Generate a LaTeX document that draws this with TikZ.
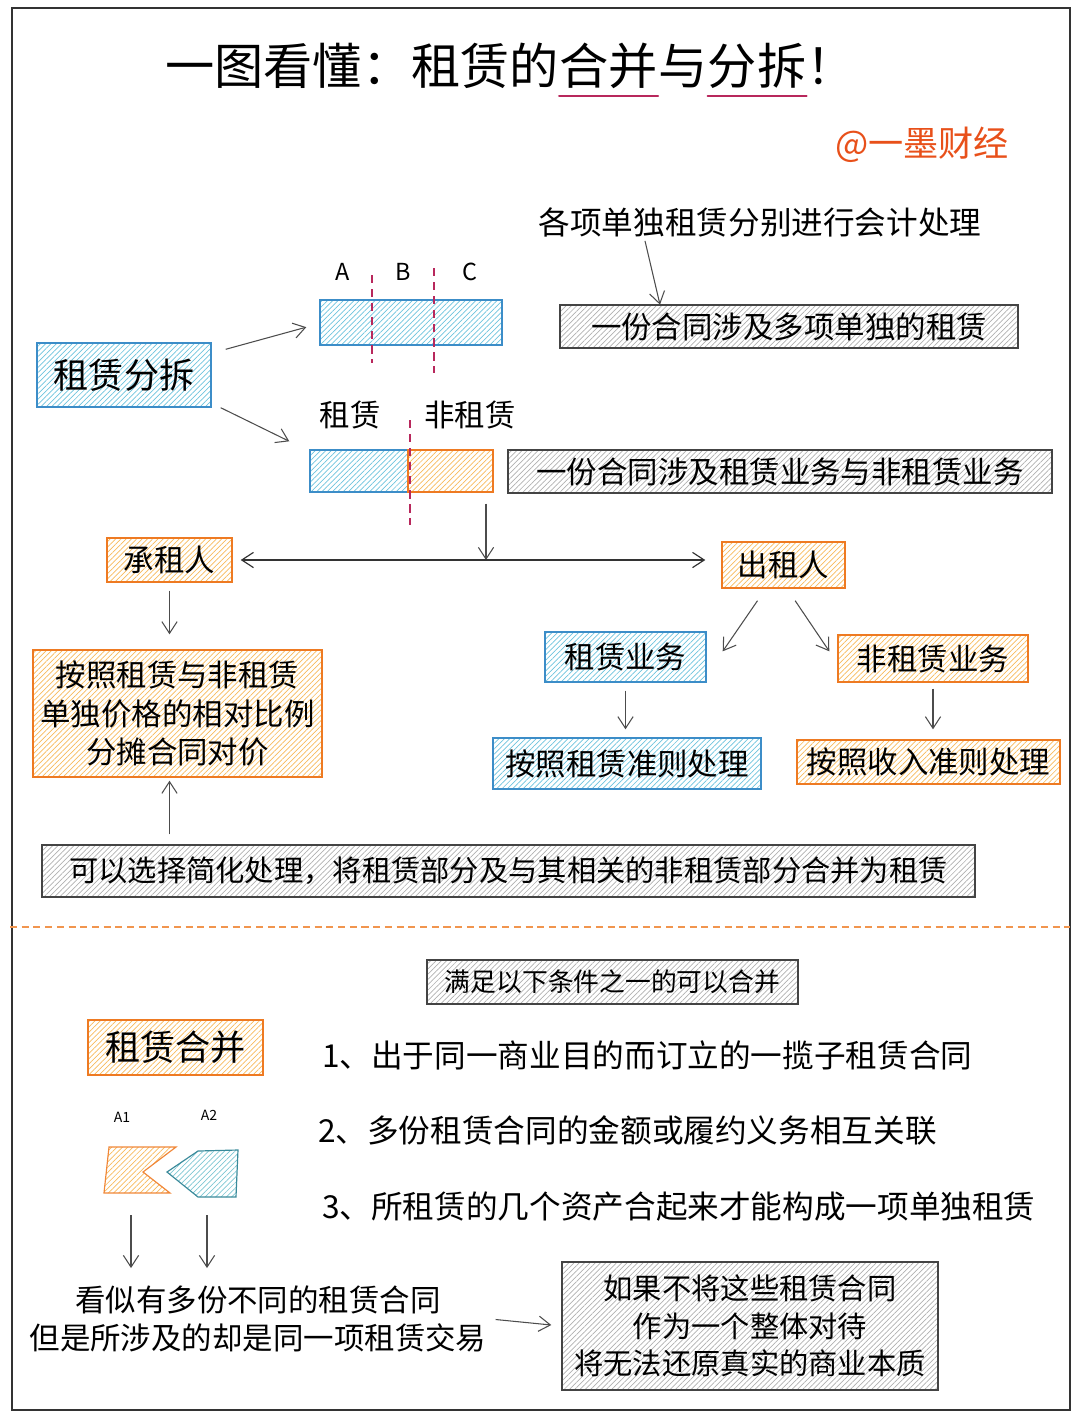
\documentclass[tikz,border=0pt]{standalone}
\usepackage{fontspec}
\setmainfont{Noto Sans CJK SC}
\usetikzlibrary{arrows.meta, positioning, calc, patterns.meta}
\definecolor{cblue}{HTML}{3C8DC8}
\definecolor{lightblue}{HTML}{6CC3DD}
\definecolor{corange}{HTML}{EE7A22}
\definecolor{lightorange}{HTML}{F7B95A}
\definecolor{cgrey}{HTML}{444444}
\definecolor{lightgrey}{HTML}{B0B0B0}
\definecolor{cteal}{HTML}{3A8A9A}
\definecolor{lightteal}{HTML}{7CC6D2}
\definecolor{ccrimson}{HTML}{B8285C}
\definecolor{cbrand}{HTML}{E8501A}
\newcommand{\bodyfont}{\fontsize{26}{33}\selectfont}
\newcommand{\bigfont}{\fontsize{30}{36}\selectfont}
\tikzset{
  hatch/.style={pattern={Lines[angle=45, distance=3.2pt, line width=0.6pt]}},
  bluebox/.style={draw=cblue, line width=1.2pt, hatch, pattern color=lightblue},
  orangebox/.style={draw=corange, line width=1.2pt, hatch, pattern color=lightorange},
  greybox/.style={draw=cgrey, line width=1.2pt, hatch, pattern color=lightgrey},
  titletext/.style={inner sep=0pt, font=\fontsize{42}{50}\selectfont},
  underl/.style={draw=ccrimson, line width=2pt, line cap=round},
  cut/.style={draw=ccrimson, line width=1.5pt, dash pattern=on 7pt off 5pt},
  arr/.style={draw=black!70, line width=0.9pt, -{Straight Barb[length=10pt, width=13pt]}},
  dblarr/.style={draw=black!80, line width=1pt, {Straight Barb[length=10pt, width=13pt]}-{Straight Barb[length=10pt, width=13pt]}},
  lbl/.style={font=\fontsize{20}{24}\selectfont}
}

\begin{document}
\begin{tikzpicture}[x=0.03cm, y=-0.03cm, font=\bodyfont]
  \useasboundingbox (0,0) rectangle (1080,1418);
  \draw[draw=black!80, line width=1.2pt] (12,8) rectangle (1070,1410);

  % title
  \node[titletext, anchor=base west] (t1) at (165,84) {一图看懂：租赁的};
  \node[titletext, anchor=base west] (t2) at (t1.base east) {合并};
  \node[titletext, anchor=base west] (t3) at (t2.base east) {与};
  \node[titletext, anchor=base west] (t4) at (t3.base east) {分拆};
  \node[titletext, anchor=base west] (t5) at (t4.base east) {！};
  \draw[underl] ([yshift=-0.36cm]t2.base west) -- ([yshift=-0.36cm]t2.base east);
  \draw[underl] ([yshift=-0.36cm]t4.base west) -- ([yshift=-0.36cm]t4.base east);
  \node[font=\bigfont, text=cbrand, anchor=east] (brand) at (1013,145) {@一墨财经};

  % lease split
  \node[font=\fontsize{27}{32}\selectfont] (note) at (760,222) {各项单独租赁分别进行会计处理};
  \node[greybox, minimum width=13.74cm, minimum height=1.29cm] (multi) at (789,326.5) {一份合同涉及多项单独的租赁};
  \node[bluebox, minimum width=5.46cm, minimum height=1.35cm] (bar) at (411,322.5) {};
  \node[lbl] (la) at (343,272) {A};
  \node[lbl] (lb) at (403,272) {B};
  \node[lbl] (lc) at (470,272) {C};
  \draw[cut] (372,275) -- (372,363);
  \draw[cut] (434,268) -- (434,373);
  \node[bluebox, font=\bigfont, minimum width=5.22cm, minimum height=1.92cm] (split) at (124,375) {租赁分拆};
  \node (ltext) at (350,415) {租赁};
  \node (ntext) at (470,415) {非租赁};
  \node[bluebox, minimum width=2.94cm, minimum height=1.26cm] (lpart) at (359,471) {};
  \node[orangebox, minimum width=2.55cm, minimum height=1.26cm] (npart) at (450.5,471) {};
  \draw[cut] (410,420) -- (410,525);
  \node[greybox, minimum width=16.32cm, minimum height=1.29cm] (mixed) at (780,471.5) {一份合同涉及租赁业务与非租赁业务};

  \draw[arr] ([xshift=-3.45cm]note.south) -- ([xshift=-3.87cm]multi.north);
  \draw[arr] ([xshift=0.42cm, yshift=-0.21cm]split.north east) -- ([xshift=-0.39cm, yshift=-0.14cm]bar.west);
  \draw[arr] ([xshift=0.27cm]split.south east) -- ([xshift=-0.6cm, yshift=0.24cm]lpart.north west);

  % lessee and lessor
  \node[orangebox, minimum width=3.75cm, minimum height=1.32cm] (lessee) at (169.5,560) {承租人};
  \node[orangebox, minimum width=3.69cm, minimum height=1.38cm] (lessor) at (783.5,565) {出租人};
  \coordinate (hub) at (486,560);
  \draw[arr] ($(npart.south east -| hub)+(0,11)$) -- (hub);
  \draw[dblarr] ([xshift=0.24cm]lessee.east) -- ($(lessee.east -| lessor.west)+(-16,0)$);

  \node[orangebox, align=center, minimum width=8.67cm, minimum height=3.81cm] (alloc) at (177.5,713.5) {按照租赁与非租赁\\单独价格的相对比例\\分摊合同对价};
  \node[greybox, font=\fontsize{25}{30}\selectfont, minimum width=27.99cm, minimum height=1.56cm] (simple) at (508.5,871) {可以选择简化处理，将租赁部分及与其相关的非租赁部分合并为租赁};
  \draw[arr, shorten <=0.24cm, shorten >=0.45cm] (lessee.south) -- (lessee.south |- alloc.north);
  \draw[arr, shorten <=0.3cm, shorten >=0.09cm] (simple.north -| lessee.south) -- (alloc.south -| lessee.south);

  \node[bluebox, minimum width=4.83cm, minimum height=1.5cm] (leasebiz) at (625.5,657) {租赁业务};
  \node[orangebox, minimum width=5.7cm, minimum height=1.41cm] (otherbiz) at (933,658.5) {非租赁业务};
  \node[bluebox, minimum width=8.04cm, minimum height=1.53cm] (leasestd) at (627,763.5) {按照租赁准则处理};
  \node[orangebox, minimum width=7.89cm, minimum height=1.32cm] (revstd) at (928.5,762) {按照收入准则处理};
  \draw[arr] ([xshift=-0.78cm, yshift=-0.36cm]lessor.south) -- ([xshift=0.48cm, yshift=-0.6cm]leasebiz.north east);
  \draw[arr] ([xshift=0.35cm, yshift=-0.36cm]lessor.south) -- ([xshift=-0.24cm, yshift=-0.51cm]otherbiz.north west);
  \draw[arr, shorten <=0.24cm, shorten >=0.24cm] (leasebiz.south) -- (leasebiz.south |- leasestd.north);
  \draw[arr, shorten <=0.18cm, shorten >=0.3cm] (otherbiz.south) -- (otherbiz.south |- revstd.north);

  \draw[draw=corange!80, line width=1.2pt, dash pattern=on 6pt off 4pt] (10,927) -- (1070,927);

  % lease combination
  \node[greybox, font=\fontsize{22}{26}\selectfont, minimum width=11.13cm, minimum height=1.32cm] (cond) at (612.5,982) {满足以下条件之一的可以合并};
  \node[orangebox, font=\bigfont, minimum width=5.25cm, minimum height=1.65cm] (merge) at (175.5,1047.5) {租赁合并};
  \node[anchor=west, font=\fontsize{27}{32}\selectfont] (c1) at (318,1055) {1、出于同一商业目的而订立的一揽子租赁合同};
  \node[anchor=west, font=\fontsize{27}{32}\selectfont] (c2) at (314,1130) {2、多份租赁合同的金额或履约义务相互关联};
  \node[anchor=west, font=\fontsize{27}{32}\selectfont] (c3) at (318,1207) {3、所租赁的几个资产合起来才能构成一项单独租赁};

  \node[font=\fontsize{12}{14}\selectfont] (a1) at (122,1117) {A1};
  \node[font=\fontsize{12}{14}\selectfont] (a2) at (209,1115) {A2};
  \draw[draw=corange!90, line width=1pt, hatch, pattern color=lightorange] (109,1147) -- (176,1147) -- (143,1172) -- (170,1193) -- (104,1193) -- cycle;
  \draw[draw=cteal, line width=1pt, hatch, pattern color=lightteal] (167,1172) -- (198,1151) -- (238,1150) -- (236,1197) -- (198,1197) -- cycle;
  \coordinate (a1end) at (131,1215);
  \coordinate (a2end) at (207,1215);

  \node[align=center] (seems) at (258,1319) {看似有多份不同的租赁合同\\但是所涉及的却是同一项租赁交易};
  \node[greybox, align=center, font=\fontsize{25}{32}\selectfont, minimum width=11.28cm, minimum height=3.84cm] (result) at (750,1326) {如果不将这些租赁合同\\作为一个整体对待\\将无法还原真实的商业本质};
  \draw[arr, shorten >=0.4cm] (a1end) -- (a1end |- seems.north);
  \draw[arr, shorten >=0.4cm] (a2end) -- (a2end |- seems.north);
  \draw[arr, shorten <=0.15cm, shorten >=0.3cm] (seems.east) -- (result.west);
\end{tikzpicture}
\end{document}
